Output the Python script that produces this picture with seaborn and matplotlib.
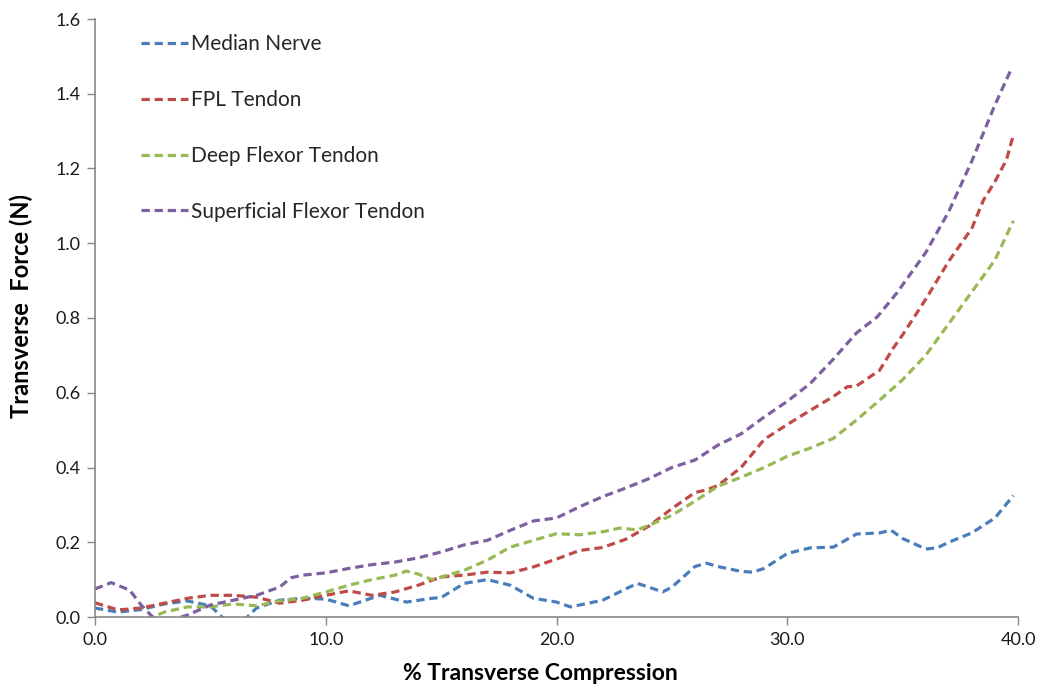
import numpy as np
import pandas as pd
import matplotlib
matplotlib.use("Agg")
import matplotlib.pyplot as plt
import seaborn as sns

series_names = ["Median Nerve", "FPL Tendon", "Deep Flexor Tendon", "Superficial Flexor Tendon"]
colors = ["#4A7EBB", "#BE4B48", "#98B954", "#7D60A0"]

median_x = [0, 1, 2, 3, 4, 5, 5.5, 6, 6.6, 7, 8, 9, 10, 11, 12.35, 13.5, 14.6, 15, 16, 17, 18, 19, 20,
            20.6, 21, 22, 23, 23.5, 24, 24.6, 25, 26, 26.5, 27, 28, 28.5, 29, 30, 31, 32, 33, 34, 34.5,
            35, 36, 36.5, 37, 38, 39, 39.8]
median_y = [0.024, 0.013, 0.02, 0.035, 0.043, 0.03, 0.0, -0.02, 0.0, 0.024, 0.045, 0.05, 0.048, 0.03,
            0.058, 0.04, 0.05, 0.052, 0.09, 0.1, 0.085, 0.05, 0.04, 0.027, 0.032, 0.045, 0.075, 0.09,
            0.08, 0.067, 0.08, 0.135, 0.144, 0.135, 0.122, 0.12, 0.13, 0.17, 0.185, 0.187, 0.222, 0.225,
            0.232, 0.21, 0.182, 0.185, 0.2, 0.225, 0.265, 0.325]

fpl_x = [0, 1, 2, 3, 4, 5, 6, 7, 8, 9, 10, 11, 12, 13, 14, 15, 16, 17, 18, 19, 20, 21, 22, 23, 24,
         25, 26, 26.5, 27, 28, 29, 30, 31, 32, 32.6, 33, 34, 34.6, 35, 36, 37, 38, 38.5, 39, 39.5, 39.8]
fpl_y = [0.038, 0.019, 0.024, 0.037, 0.05, 0.058, 0.058, 0.053, 0.037, 0.045, 0.058, 0.07, 0.058,
         0.067, 0.085, 0.107, 0.112, 0.12, 0.118, 0.134, 0.155, 0.178, 0.186, 0.208, 0.243, 0.29,
         0.333, 0.34, 0.352, 0.40, 0.475, 0.515, 0.553, 0.59, 0.616, 0.618, 0.66, 0.72, 0.755, 0.85,
         0.952, 1.04, 1.115, 1.165, 1.223, 1.29]

deep_x = [0, 1, 2, 2.5, 3, 4, 5, 6, 7, 8, 9, 10, 11, 12, 13, 13.5, 14, 14.6, 15, 16, 17, 18, 19, 20,
          21, 22, 22.75, 23.5, 24, 25, 26, 27, 28, 29, 30, 31, 32, 33, 34, 35, 36, 37, 38, 39, 39.8]
deep_y = [-0.005, -0.02, -0.01, 0.0, 0.013, 0.027, 0.027, 0.035, 0.03, 0.043, 0.05, 0.067, 0.085,
          0.1, 0.112, 0.123, 0.115, 0.1, 0.107, 0.125, 0.152, 0.187, 0.205, 0.223, 0.22, 0.228, 0.238,
          0.233, 0.245, 0.272, 0.31, 0.35, 0.374, 0.40, 0.43, 0.452, 0.478, 0.527, 0.58, 0.635, 0.70,
          0.785, 0.87, 0.955, 1.06]

sup_x = [0, 0.7, 1.5, 2, 2.5, 3, 3.5, 4, 5, 6, 7, 8, 8.5, 9, 10, 11, 12, 13, 14, 15, 16, 17, 18, 19,
         20, 21, 22, 23, 24, 25, 26, 27, 28, 29, 30, 31, 32, 33, 33.9, 34.75, 36, 37, 38, 39, 39.7]
sup_y = [0.075, 0.092, 0.072, 0.032, 0.0, -0.02, -0.005, 0.005, 0.032, 0.045, 0.058, 0.08, 0.105,
         0.112, 0.118, 0.13, 0.14, 0.147, 0.158, 0.174, 0.193, 0.205, 0.232, 0.257, 0.265, 0.295,
         0.322, 0.345, 0.37, 0.40, 0.42, 0.46, 0.49, 0.535, 0.577, 0.625, 0.69, 0.76, 0.803, 0.867,
         0.975, 1.085, 1.22, 1.37, 1.465]

xs = [median_x, fpl_x, deep_x, sup_x]
ys = [median_y, fpl_y, deep_y, sup_y]

sns.set_style("white")
plt.rcParams['font.family'] = ['Lato', 'DejaVu Sans']

fig = plt.figure(figsize=(10.47, 6.88), dpi=100)
ax = fig.add_axes([95 / 1047, 1 - 617 / 688, (1018 - 95) / 1047, (617 - 19) / 688])

for name, c, x, y in zip(series_names, colors, xs, ys):
    df = pd.DataFrame({"x": x, "y": y})
    sns.lineplot(data=df, x="x", y="y", ax=ax, color=c, label=name, linewidth=2.3,
                 estimator=None, sort=False)
for line in ax.get_lines():
    line.set_dashes((2.6, 1.5))
    line.set_dash_capstyle("butt")

ax.set_xlim(0, 40)
ax.set_ylim(0, 1.6)
ax.set_xticks([0, 10, 20, 30, 40])
ax.set_xticklabels(["0.0", "10.0", "20.0", "30.0", "40.0"])
ax.set_yticks(np.arange(0, 1.61, 0.2))
ax.set_yticklabels([f"{v:.1f}" for v in np.arange(0, 1.61, 0.2)])
ax.tick_params(axis="both", labelsize=13, length=5.5, width=1, direction="out",
               bottom=True, left=True, colors="#888888", labelcolor="#1a1a1a")
ax.tick_params(axis="x", pad=5)
ax.tick_params(axis="y", pad=5)

for s in ["top", "right"]:
    ax.spines[s].set_visible(False)
for s in ["left", "bottom"]:
    ax.spines[s].set_color("#888888")
    ax.spines[s].set_linewidth(1.2)

ax.set_xlabel("% Transverse Compression", fontsize=16.5, fontweight="bold", color="#000000")
ax.set_ylabel("Transverse  Force (N)", fontsize=17, fontweight="bold", color="#000000")
ax.xaxis.set_label_coords((540 - 95) / 923, -0.077)
ax.yaxis.set_label_coords(-0.067, 0.52)

leg = ax.legend(loc="upper left", bbox_to_anchor=(0.029, 1.006), frameon=False, fontsize=15,
                labelspacing=1.72, handlelength=2.3, handletextpad=0.1)

fig.savefig("out.png", dpi=100, facecolor="white")
